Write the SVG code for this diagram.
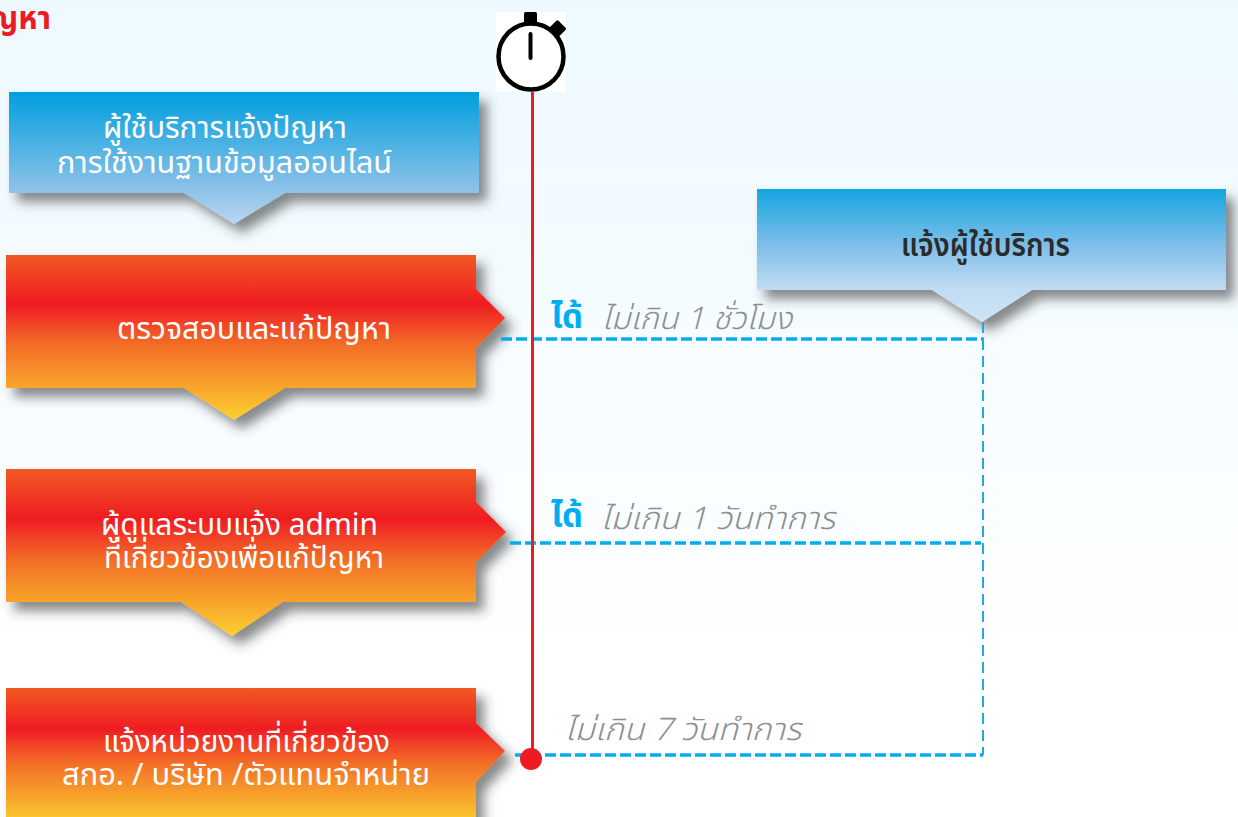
<svg xmlns="http://www.w3.org/2000/svg" width="1238" height="817" viewBox="0 0 1238 817">
<style>
.w{fill:#fff;font-family:"Noto Sans Thai","Noto Sans","DejaVu Sans",sans-serif;font-size:31px}
.k{fill:#2b2b2b;font-family:"Noto Sans Thai","Noto Sans","DejaVu Sans",sans-serif;font-size:32px;font-weight:600}
.g{fill:#8c8f92;font-family:"Noto Sans Thai","Noto Sans","DejaVu Sans",sans-serif;font-size:31px;font-style:italic;font-weight:300}
.b{fill:#00aeef;font-family:"Noto Sans Thai","Noto Sans","DejaVu Sans",sans-serif;font-size:33px;font-weight:bold}
.h{fill:none;stroke:#00aeef;stroke-width:3.5;stroke-dasharray:11 4}
.v{fill:none;stroke:#1fa9e6;stroke-width:2;stroke-dasharray:11 6}
.s{filter:url(#sh)}
</style>
<defs>
<linearGradient id="bg" x1="0" y1="0" x2="0" y2="1"><stop offset="0" stop-color="#edf9ff"/><stop offset="0.85" stop-color="#fff"/></linearGradient>
<linearGradient id="bl" x1="0" y1="0" x2="0" y2="1"><stop offset="0" stop-color="#009fde"/><stop offset="0.75" stop-color="#8fc2e9"/><stop offset="1" stop-color="#b8d7f1"/></linearGradient>
<linearGradient id="bl2" x1="0" y1="0" x2="0" y2="1"><stop offset="0" stop-color="#14a5e0"/><stop offset="0.45" stop-color="#85c0ea"/><stop offset="0.76" stop-color="#c2dcf3"/><stop offset="1" stop-color="#cfe3f6"/></linearGradient>
<linearGradient id="or" x1="0" y1="0" x2="0" y2="1"><stop offset="0" stop-color="#f15a24"/><stop offset="0.3" stop-color="#ef1c24"/><stop offset="0.55" stop-color="#f36f27"/><stop offset="1" stop-color="#fcd030"/></linearGradient>
<filter id="sh" x="-10%" y="-15%" width="125%" height="140%"><feDropShadow dx="8" dy="9" stdDeviation="6" flood-color="#333" flood-opacity="0.58"/></filter>
</defs>
<rect width="1238" height="817" fill="url(#bg)"/>
<text x="51" y="29" text-anchor="end" font-family="'Noto Sans Thai','Noto Sans','DejaVu Sans',sans-serif" font-size="31" font-weight="bold" fill="#ed1c24">ญหา</text>
<g id="n1"><path class="s" d="M9 92H479V193H285L234 224L184 193H9Z" fill="url(#bl)"/>
<text class="w" x="103" y="138" textLength="244" lengthAdjust="spacingAndGlyphs">ผู้ใช้บริการแจ้งปัญหา</text><text class="w" x="57" y="173" textLength="335" lengthAdjust="spacingAndGlyphs">การใช้งานฐานข้อมูลออนไลน์</text></g>
<g id="n2"><path class="s" d="M757 189H1226V290H1032L982 322L932 290H757Z" fill="url(#bl2)"/>
<text class="k" x="901" y="256" textLength="169" lengthAdjust="spacingAndGlyphs">แจ้งผู้ใช้บริการ</text></g>
<g id="n3"><path class="s" d="M6 255H476V289L505 318L476 348V388H285L234 420L184 388H6Z" fill="url(#or)"/>
<text class="w" x="117" y="339" textLength="274" lengthAdjust="spacingAndGlyphs">ตรวจสอบและแก้ปัญหา</text></g>
<g id="n4"><path class="s" d="M6 469H476V502L506 532L476 562V602H283L232 636L181 602H6Z" fill="url(#or)"/>
<text class="w" x="101" y="535" textLength="277" lengthAdjust="spacingAndGlyphs">ผู้ดูแลระบบแจ้ง admin</text><text class="w" x="104" y="568" textLength="280" lengthAdjust="spacingAndGlyphs">ที่เกี่ยวข้องเพื่อแก้ปัญหา</text></g>
<g id="n5"><path class="s" d="M6 688H476V723L505 751L476 782V825H6Z" fill="url(#or)"/>
<text class="w" x="103" y="752" textLength="287" lengthAdjust="spacingAndGlyphs">แจ้งหน่วยงานที่เกี่ยวข้อง</text><text class="w" x="62" y="785" textLength="368" lengthAdjust="spacingAndGlyphs">สกอ. / บริษัท /ตัวแทนจำหน่าย</text></g>
<g id="connectors">
<path class="h" d="M501 339H984"/><path class="h" d="M510 543H981"/><path class="h" d="M515 755H983"/>
<path class="v" d="M983 322V755"/>
<path d="M532.500 90V759" stroke="#ed1c24" stroke-width="3" fill="none"/>
<circle cx="531" cy="759" r="11" fill="#ed1c24"/>
</g>
<g id="timer"><rect x="496" y="12" width="70" height="80" fill="#fff"/>
<rect x="524" y="12" width="13" height="14" rx="1.500" fill="#000"/>
<rect x="549" y="22" width="13" height="18" rx="1.500" fill="#000" transform="rotate(45 556 31)"/>
<ellipse cx="531" cy="56.500" rx="32.500" ry="33" fill="#fff" stroke="#000" stroke-width="4.500"/>
<path d="M530.500 34V58" stroke="#000" stroke-width="4" stroke-linecap="round"/></g>
<text class="b" x="551" y="328">ได้</text><text class="g" x="602" y="329" textLength="190" lengthAdjust="spacingAndGlyphs">ไม่เกิน 1 ชั่วโมง</text>
<text class="b" x="551" y="527">ได้</text><text class="g" x="601" y="529" textLength="234" lengthAdjust="spacingAndGlyphs">ไม่เกิน 1 วันทำการ</text>
<text class="g" x="565" y="740" textLength="236" lengthAdjust="spacingAndGlyphs">ไม่เกิน 7 วันทำการ</text>
</svg>
